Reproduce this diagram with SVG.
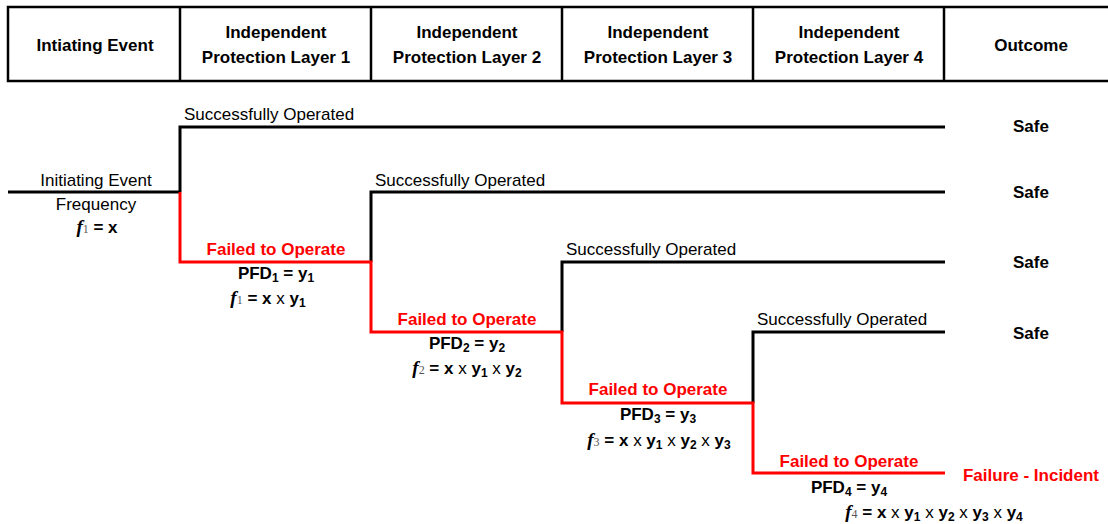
<svg xmlns="http://www.w3.org/2000/svg" width="1108" height="524" viewBox="0 0 1108 524">
<style>
  text { font-family: "Liberation Sans", Arial, sans-serif; font-size: 17px; fill: #000; }
  .h { font-weight: bold; text-anchor: middle; }
  .ok { text-anchor: start; }
  .fail { font-weight: bold; fill: #ff0000; text-anchor: middle; }
  .b { font-weight: bold; text-anchor: middle; }
  .c { text-anchor: middle; }
  .sub { font-size: 12px; }
  .fi { font-family: "Liberation Serif", "Times New Roman", serif; font-style: italic; font-weight: bold; font-size: 19px; }
  .fs { font-family: "Liberation Serif", "Times New Roman", serif; font-weight: normal; font-size: 12px; fill: #555; }
  .m { font-weight: normal; }
  .grid { fill: none; stroke: #000; stroke-width: 2.5; }
  .blk { fill: none; stroke: #000; stroke-width: 3; }
  .red { fill: none; stroke: #ff0000; stroke-width: 3; }
</style>

<g id="header">
  <rect class="grid" x="8" y="7" width="1110" height="74"/>
  <line class="grid" x1="180" y1="7" x2="180" y2="81"/>
  <line class="grid" x1="371" y1="7" x2="371" y2="81"/>
  <line class="grid" x1="562" y1="7" x2="562" y2="81"/>
  <line class="grid" x1="753" y1="7" x2="753" y2="81"/>
  <line class="grid" x1="944" y1="7" x2="944" y2="81"/>
  <text class="h" x="95" y="51">Intiating Event</text>
  <text class="h" x="276" y="38">Independent</text>
  <text class="h" x="276" y="63">Protection Layer 1</text>
  <text class="h" x="467" y="38">Independent</text>
  <text class="h" x="467" y="63">Protection Layer 2</text>
  <text class="h" x="658" y="38">Independent</text>
  <text class="h" x="658" y="63">Protection Layer 3</text>
  <text class="h" x="849" y="38">Independent</text>
  <text class="h" x="849" y="63">Protection Layer 4</text>
  <text class="h" x="1031" y="51">Outcome</text>
</g>

<g id="connectors">
  <path class="blk" d="M8,192 H180"/>
  <path class="blk" d="M180,192 V127 H945"/>
  <path class="blk" d="M371,262 V192 H945"/>
  <path class="blk" d="M562,332 V262 H945"/>
  <path class="blk" d="M753,403 V332 H945"/>
  <path class="red" d="M180,192 V262 H371 V332 H562 V403 H753 V473 H945"/>
</g>

<g id="initiating-event">
  <text class="c" x="96" y="186">Initiating Event</text>
  <text class="c" x="96" y="210">Frequency</text>
  <text class="b" x="97" y="233"><tspan class="fi">f</tspan><tspan class="fs">1</tspan> = x</text>
</g>

<g id="ipl1">
  <text class="ok" x="184" y="120">Successfully Operated</text>
  <text class="fail" x="276" y="255">Failed to Operate</text>
  <text class="b" x="276" y="279">PFD<tspan class="sub" dy="3">1</tspan><tspan dy="-3"> = y</tspan><tspan class="sub" dy="3">1</tspan></text>
  <text class="b" x="268" y="304"><tspan class="fi">f</tspan><tspan class="fs">1</tspan> = x <tspan class="m">x</tspan> y<tspan class="sub" dy="3">1</tspan></text>
</g>

<g id="ipl2">
  <text class="ok" x="375" y="186">Successfully Operated</text>
  <text class="fail" x="467" y="325">Failed to Operate</text>
  <text class="b" x="467" y="349">PFD<tspan class="sub" dy="3">2</tspan><tspan dy="-3"> = y</tspan><tspan class="sub" dy="3">2</tspan></text>
  <text class="b" x="467" y="374"><tspan class="fi">f</tspan><tspan class="fs">2</tspan> = x <tspan class="m">x</tspan> y<tspan class="sub" dy="3">1</tspan><tspan class="m" dy="-3"> x </tspan>y<tspan class="sub" dy="3">2</tspan></text>
</g>

<g id="ipl3">
  <text class="ok" x="566" y="255">Successfully Operated</text>
  <text class="fail" x="658" y="395">Failed to Operate</text>
  <text class="b" x="658" y="420">PFD<tspan class="sub" dy="3">3</tspan><tspan dy="-3"> = y</tspan><tspan class="sub" dy="3">3</tspan></text>
  <text class="b" x="659" y="446"><tspan class="fi">f</tspan><tspan class="fs">3</tspan> = x <tspan class="m">x</tspan> y<tspan class="sub" dy="3">1</tspan><tspan class="m" dy="-3"> x </tspan>y<tspan class="sub" dy="3">2</tspan><tspan class="m" dy="-3"> x </tspan>y<tspan class="sub" dy="3">3</tspan></text>
</g>

<g id="ipl4">
  <text class="ok" x="757" y="325">Successfully Operated</text>
  <text class="fail" x="849" y="467">Failed to Operate</text>
  <text class="b" x="849" y="493">PFD<tspan class="sub" dy="3">4</tspan><tspan dy="-3"> = y</tspan><tspan class="sub" dy="3">4</tspan></text>
  <text class="b" x="934" y="518"><tspan class="fi">f</tspan><tspan class="fs">4</tspan> = x <tspan class="m">x</tspan> y<tspan class="sub" dy="3">1</tspan><tspan class="m" dy="-3"> x </tspan>y<tspan class="sub" dy="3">2</tspan><tspan class="m" dy="-3"> x </tspan>y<tspan class="sub" dy="3">3</tspan><tspan class="m" dy="-3"> x </tspan>y<tspan class="sub" dy="3">4</tspan></text>
</g>

<g id="outcomes">
  <text class="b" x="1031" y="132">Safe</text>
  <text class="b" x="1031" y="198">Safe</text>
  <text class="b" x="1031" y="268">Safe</text>
  <text class="b" x="1031" y="339">Safe</text>
  <text class="fail" x="1031" y="481">Failure - Incident</text>
</g>
</svg>
